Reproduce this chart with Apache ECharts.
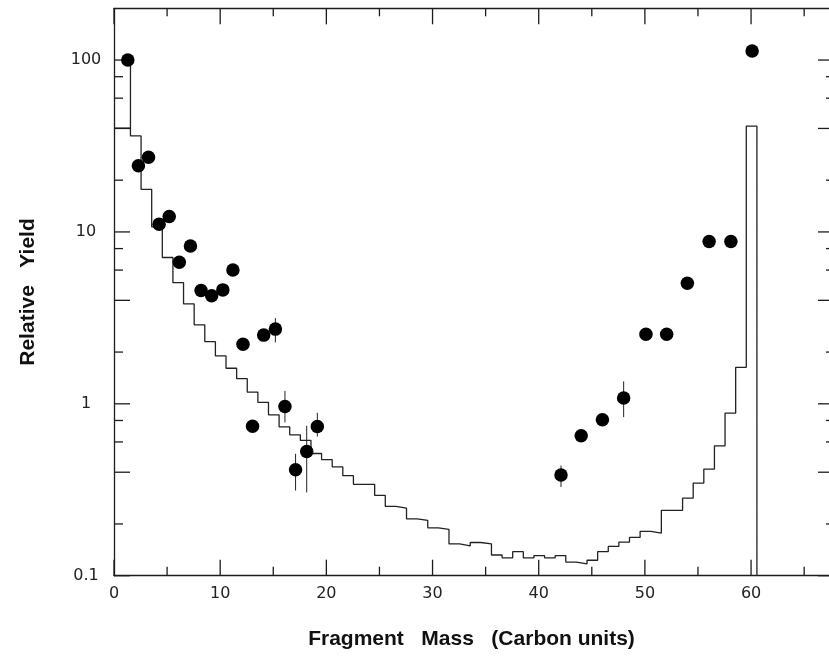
<!DOCTYPE html>
<html><head><meta charset="utf-8">
<script src="https://cdn.jsdelivr.net/npm/echarts@6/dist/echarts.min.js"></script>
<style>html,body{margin:0;padding:0;background:#fff}#c{width:829px;height:660px}</style>
</head><body><div id="c"></div>
<script>
// ---- data ----
const dotMass  = [1.3, 2.3, 3.25, 4.25, 5.2, 6.15, 7.2, 8.2, 9.2, 10.25, 11.2, 12.15, 13.05, 14.1, 15.2, 16.1, 17.1, 18.15, 19.15,
                  42.1, 44.0, 46.0, 48.0, 50.1, 52.05, 54.0, 56.05, 58.1, 60.1];
const dotYield = [100, 24.3, 27.2, 11.1, 12.3, 6.67, 8.29, 4.56, 4.25, 4.6, 6.0, 2.22, 0.74, 2.51, 2.72, 0.965, 0.413, 0.528, 0.738,
                  0.385, 0.652, 0.807, 1.08, 2.54, 2.54, 5.03, 8.79, 8.79, 113];
const errMass = [15.2, 16.1, 17.1, 18.15, 19.15, 42.1, 48.0];
const errLow  = [2.28, 0.78, 0.313, 0.305, 0.645, 0.328, 0.837];
const errHigh = [3.15, 1.19, 0.512, 0.745, 0.886, 0.438, 1.35];

const histMass = [1,2,3,4,5,6,7,8,9,10,11,12,13,14,15,16,17,18,19,20,21,22,23,24,25,26,27,28,29,30,
                  31,32,33,34,35,36,37,38,39,40,41,42,43,44,45,46,47,48,49,50,51,52,53,54,55,56,57,58,59,60];
const histYield = [40.1, 36.2, 17.7, 10.7, 7.1, 5.07, 3.81, 2.88, 2.30, 1.90,
                   1.61, 1.40, 1.17, 1.02, 0.863, 0.735, 0.660, 0.612, 0.514, 0.474,
                   0.430, 0.382, 0.340, 0.340, 0.293, 0.253, 0.247, 0.214, 0.210, 0.190,
                   0.186, 0.153, 0.149, 0.156, 0.153, 0.132, 0.127, 0.138, 0.127, 0.131,
                   0.127, 0.131, 0.120, 0.117, 0.123, 0.138, 0.148, 0.157, 0.167, 0.181,
                   0.177, 0.240, 0.240, 0.283, 0.346, 0.417, 0.570, 0.883, 1.63, 41.3];
const histEdgePeak = 100;       // vertical stroke at the first bin edge reaches the top point

const xTickMajor = [0, 10, 20, 30, 40, 50, 60];
const xTickLabels = ['0', '10', '20', '30', '40', '50', '60'];
const xTickMinor = [5, 15, 25, 35, 45, 55, 65];
const yTickMajor = [0.1, 1, 10, 100];
const yTickLabels = ['0.1', '1', '10', '100'];
const yTickMinor = [0.2, 0.4, 0.6, 0.8, 2, 4, 6, 8, 20, 40, 60, 80];
const yTickMinorLong = [0.4, 4, 40];

const xMin = 0, xMax = 67.34, yMin = 0.1, yMax = 200;
const binLo = 0.45, binHi = 0.55;

// ---- build step path from bins ----
const histPath = [[xMin, histYield[0]]];
histMass.forEach((n, i) => {
  if (i > 0) histPath.push([n - binLo, histYield[i]]);
  histPath.push([n + binHi, histYield[i]]);
  if (i === 0) histPath.push([n + binHi, histEdgePeak]);
});
histPath.push([histMass[histMass.length - 1] + binHi, yMin]);

const INK = '#1c1c1c';
const chart = echarts.init(document.getElementById('c'), null, {renderer: 'canvas'});

function lineEl(x1, y1, x2, y2, w) {
  return {type: 'line', shape: {x1, y1, x2, y2}, style: {stroke: INK, lineWidth: w || 1.3}, silent: true};
}

const titleStyle = {fontFamily: 'Liberation Sans', fontWeight: 'bold', fontSize: 21, color: '#111'};

const option = {
  animation: false,
  backgroundColor: '#fff',
  grid: {left: 114, top: 8.3, width: 715, height: 567.4, containLabel: false, outerBoundsMode: 'none'},
  xAxis: [{
    type: 'value', min: xMin, max: xMax, interval: 10, position: 'bottom',
    axisLine: {show: true, lineStyle: {color: INK, width: 1.3}},
    axisTick: {show: false}, splitLine: {show: false},
    axisLabel: {
      margin: 10, fontFamily: 'DejaVu Sans', fontSize: 16, color: '#222',
      formatter: v => { const i = xTickMajor.indexOf(v); return i >= 0 ? xTickLabels[i] : ''; }
    },
    name: 'Fragment   Mass   (Carbon units)', nameLocation: 'middle', nameGap: 53,
    nameTextStyle: titleStyle
  }, {
    type: 'value', min: xMin, max: xMax, interval: 10, position: 'top',
    axisLine: {show: true, lineStyle: {color: INK, width: 1.3}},
    axisTick: {show: false}, splitLine: {show: false}, axisLabel: {show: false}
  }],
  yAxis: [{
    type: 'log', logBase: 10, min: yMin, max: yMax, position: 'left',
    axisLine: {show: true, lineStyle: {color: INK, width: 1.3}},
    axisTick: {show: false}, splitLine: {show: false},
    axisLabel: {
      margin: 28, align: 'center', fontFamily: 'DejaVu Sans', fontSize: 16, color: '#222',
      formatter: v => {
        for (let i = 0; i < yTickMajor.length; i++) {
          if (Math.abs(Math.log10(v) - Math.log10(yTickMajor[i])) < 1e-6) return yTickLabels[i];
        }
        return '';
      }
    },
    name: 'Relative   Yield', nameLocation: 'middle', nameGap: 75,
    nameTextStyle: titleStyle
  }, {
    type: 'log', logBase: 10, min: yMin, max: yMax, position: 'right',
    axisLine: {show: false},
    axisTick: {show: false}, splitLine: {show: false}, axisLabel: {show: false}
  }],
  series: [{
    type: 'custom', name: 'ticks', xAxisIndex: 0, yAxisIndex: 0,
    data: [[xMin, yMin]],
    renderItem: (params, api) => {
      const ch = [];
      const bottom = api.coord([xMin, yMin])[1], top = api.coord([xMin, yMax])[1];
      const left = api.coord([xMin, yMin])[0], right = api.coord([xMax, yMin])[0];
      xTickMajor.forEach(v => {
        const x = api.coord([v, yMin])[0];
        ch.push(lineEl(x, bottom, x, bottom - 16, 1.3));
        ch.push(lineEl(x, top, x, top + 16, 1.3));
      });
      xTickMinor.forEach(v => {
        const x = api.coord([v, yMin])[0];
        ch.push(lineEl(x, bottom, x, bottom - 9, 1.3));
        ch.push(lineEl(x, top, x, top + 8, 1.3));
      });
      yTickMajor.forEach(v => {
        const y = api.coord([xMin, v])[1];
        ch.push(lineEl(left, y, left + 16, y, 1.3));
        ch.push(lineEl(right, y, right - 11, y, 1.3));
      });
      yTickMinor.forEach(v => {
        const y = api.coord([xMin, v])[1];
        const isLong = yTickMinorLong.indexOf(v) >= 0;
        ch.push(lineEl(left, y, left + (isLong ? 16 : 9), y, 1.3));
        ch.push(lineEl(right, y, right - (isLong ? 11 : 3), y, 1.3));
      });
      return {type: 'group', children: ch};
    },
    z: 5
  }, {
    type: 'line', name: 'calc', data: histPath, showSymbol: false, symbol: 'none',
    lineStyle: {color: '#222', width: 1.3}, clip: true, z: 3
  }, {
    type: 'custom', name: 'errors',
    data: errMass.map((m, i) => [m, errLow[i], errHigh[i]]),
    renderItem: (params, api) => {
      const p1 = api.coord([api.value(0), api.value(1)]);
      const p2 = api.coord([api.value(0), api.value(2)]);
      return {type: 'line', shape: {x1: p1[0], y1: p1[1], x2: p2[0], y2: p2[1]},
              style: {stroke: '#222', lineWidth: 1}};
    },
    z: 4
  }, {
    type: 'scatter', name: 'data', data: dotMass.map((m, i) => [m, dotYield[i]]),
    symbol: 'circle', symbolSize: 13.5, itemStyle: {color: '#000', opacity: 1}, z: 6
  }]
};
chart.setOption(option);
</script>
</body></html>
